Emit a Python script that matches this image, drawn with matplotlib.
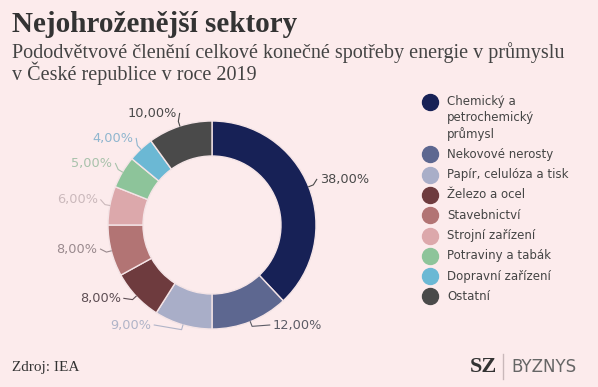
import matplotlib
matplotlib.use("Agg")
import matplotlib.pyplot as plt
import numpy as np

# ---- data ----
categories = ["Chemický a\npetrochemický\nprůmysl", "Nekovové nerosty", "Papír, celulóza a tisk",
              "Železo a ocel", "Stavebnictví", "Strojní zařízení", "Potraviny a tabák",
              "Dopravní zařízení", "Ostatní"]
shares = [38, 12, 9, 8, 8, 6, 5, 4, 10]

title = "Nejohroženější sektory"
subtitle_lines = ["Pododvětvové členění celkové konečné spotřeby energie v průmyslu",
                  "v České republice v roce 2019"]
source = "Zdroj: IEA"

# ---- style ----
BG = "#fcebec"
colors = ["#172156", "#5d6790", "#a9aec8", "#6e3b3e", "#b27474", "#dca8ab",
          "#8dc49a", "#6bb8d4", "#4a4a4a"]
label_colors = ["#4a4a4a", "#5c5c66", "#b0b4c8", "#5e4e54", "#9a8a8e", "#cbb9bc",
                "#a8c2ab", "#8fb6cf", "#4a4a4a"]

W, H = 598, 387
fig = plt.figure(figsize=(W / 100, H / 100), dpi=100, facecolor=BG)

# overlay axes in pixel coordinates for titles/legend
ov = fig.add_axes([0, 0, 1, 1])
ov.set_xlim(0, W)
ov.set_ylim(H, 0)
ov.axis("off")
ov.patch.set_alpha(0)

serif = ["Liberation Serif", "DejaVu Serif"]
sans = ["DejaVu Sans"]

ov.text(12, 32, title, fontsize=21, fontweight="bold", family=serif, color="#333333", va="baseline")
for i, line in enumerate(subtitle_lines):
    ov.text(12, 58 + i * 22, line, fontsize=14.5, family=serif, color="#444444", va="baseline")
ov.text(12, 371, source, fontsize=11, family=serif, color="#333333", va="baseline")
ov.text(470, 372, "SZ", fontsize=16, fontweight="bold", family=serif, color="#333333", va="baseline")
ov.plot([503, 503], [354, 379], color="#c9b8ba", lw=1)
ov.text(511, 372, "BYZNYS", fontsize=12, family=sans, color="#666666", va="baseline")

# ---- donut ----
cx, cy = 212, 225
box = 300
ax = fig.add_axes([(cx - box / 2) / W, (H - cy - box / 2) / H, box / W, box / H])
ax.axis("off")
ax.patch.set_alpha(0)

r_out = 1.04
wedges, _ = ax.pie(shares, colors=colors, startangle=90, counterclock=False, radius=r_out,
                   wedgeprops=dict(width=0.35, edgecolor="#f4e4e6", linewidth=1))
ax.set_xlim(-1.5, 1.5)
ax.set_ylim(-1.5, 1.5)
ax.set_aspect("equal")

# label placement: on a circle, bottom clamped, simple collision push per side
Rl = 1.17
gap = 0.25
info = []
for w in wedges:
    th = np.deg2rad((w.theta1 + w.theta2) / 2)
    c, s = np.cos(th), np.sin(th)
    info.append([c, s, max(Rl * s + 0.04 * (1 - s), -1.0)])
for side in (1, -1):
    idx = sorted([i for i, it in enumerate(info) if np.sign(it[0]) == side], key=lambda i: info[i][2])
    for a, b in zip(idx[:-1], idx[1:]):
        if info[b][2] < info[a][2] + gap:
            info[b][2] = info[a][2] + gap

for (c, s, ty), v, lc in zip(info, shares, label_colors):
    dx = np.sign(c) * np.sqrt(max(Rl ** 2 - ty ** 2, 0))
    ha = "left" if c > 0 else "right"
    txt = f"{v:.2f}".replace(".", ",") + "%"
    ax.text(dx, ty, txt, ha=ha, va="center", fontsize=9.3, color=lc, family=sans)
    p0 = (r_out * c, r_out * s)
    p1 = ((r_out + 0.05) * c, (r_out + 0.05) * s)
    p2 = (dx - np.sign(c) * 0.03, ty)
    ax.plot([p0[0], p1[0], p2[0]], [p0[1], p1[1], p2[1]], color=lc, lw=0.8, clip_on=False)

# ---- legend ----
y = 102
for cat, col in zip(categories, colors):
    lines = cat.split("\n")
    ov.plot([430], [y], marker="o", markersize=11.5, color=col, ls="")
    for j, ln in enumerate(lines):
        ov.text(447, y + j * 16, ln, fontsize=8.5, family=sans, color="#444444", va="center")
    y += (len(lines) - 1) * 16 + 20.3

fig.savefig("out.png", dpi=100, facecolor=BG)
